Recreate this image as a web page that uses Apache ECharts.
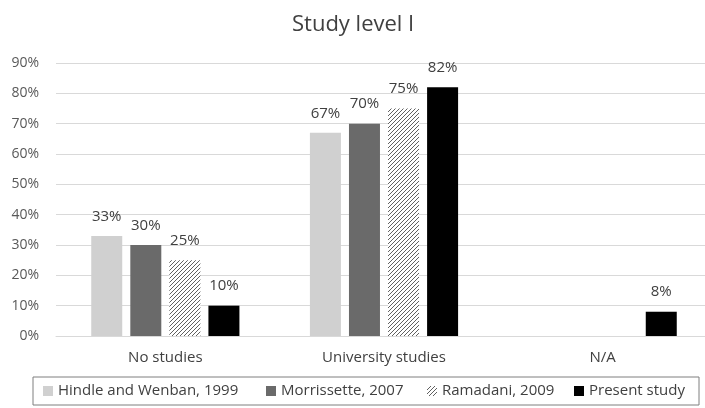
<!DOCTYPE html>
<html>
<head>
<meta charset="utf-8">
<script src="https://cdn.jsdelivr.net/npm/echarts@6/dist/echarts.min.js"></script>
<style>
  html, body { margin: 0; padding: 0; background: #fff; overflow: hidden; }
  /* the plot area runs a few pixels past the right edge of the window */
  #chart { width: 712px; height: 408px; }
</style>
</head>
<body>
<div id="chart"></div>
<script>
const categories = ['No studies', 'University studies', 'N/A'];
const seriesNames = ['Hindle and Wenban, 1999', 'Morrissette, 2007', 'Ramadani, 2009', 'Present study'];
const hindle = [33, 67, null];
const morrissette = [30, 70, null];
const ramadani = [25, 75, null];
const present = [10, 82, 8];
const yTicks = { min: 0, max: 90, interval: 10 };

// Diagonal hatch tile for the Ramadani bars
function hatchTile() {
  const s = 4;
  const c = document.createElement('canvas');
  c.width = s; c.height = s;
  const g = c.getContext('2d');
  g.fillStyle = '#ffffff';
  g.fillRect(0, 0, s, s);
  g.strokeStyle = '#606060';
  g.lineWidth = 1;
  g.beginPath();
  g.moveTo(-1, s + 1); g.lineTo(s + 1, -1);
  g.moveTo(-1, 1); g.lineTo(1, -1);
  g.moveTo(s - 1, s + 1); g.lineTo(s + 1, s - 1);
  g.stroke();
  return c;
}

const FONT = "'Open Sans', 'Noto Sans', sans-serif";
const textColor = '#404040';

function barSeries(name, data, color) {
  return {
    name: name,
    type: 'bar',
    data: data,
    barWidth: 31,
    barGap: '26%',
    itemStyle: { color: color },
    label: {
      show: true,
      position: 'top',
      distance: 12,
      formatter: p => p.value + '%',
      color: textColor,
      fontFamily: FONT,
      fontSize: 15
    }
  };
}

// legend entries with their text box widths
const legendWidths = [198, 136, 122, 100];

const chart = echarts.init(document.getElementById('chart'), null, { renderer: 'canvas' });
chart.setOption({
  animation: false,
  backgroundColor: '#ffffff',
  title: {
    text: 'Study level I',
    left: 287,
    top: 9,
    textStyle: { fontFamily: FONT, fontSize: 22, fontWeight: 'normal', color: textColor }
  },
  grid: { left: 56, right: 0, top: 63, bottom: 72 },
  xAxis: {
    type: 'category',
    data: categories,
    axisTick: { show: false },
    axisLine: { lineStyle: { color: '#d9d9d9', width: 1 } },
    axisLabel: { color: textColor, fontFamily: FONT, fontSize: 15, margin: 14 }
  },
  yAxis: {
    type: 'value',
    min: yTicks.min,
    max: yTicks.max,
    interval: yTicks.interval,
    axisLine: { show: false },
    axisTick: { show: false },
    splitLine: { lineStyle: { color: '#d9d9d9', width: 1 } },
    axisLabel: { formatter: '{value}%', color: '#595959', fontFamily: FONT, fontSize: 14, margin: 17 }
  },
  legend: {
    data: seriesNames.map((n, i) => ({ name: n, textStyle: { width: legendWidths[i] } })),
    left: 33,
    top: 377,
    padding: [5, 10, 5, 10],
    itemWidth: 10,
    itemHeight: 10,
    itemGap: 10,
    borderColor: '#7f7f7f',
    borderWidth: 1,
    icon: 'rect',
    textStyle: { color: textColor, fontFamily: FONT, fontSize: 15, lineHeight: 18 }
  },
  series: [
    barSeries(seriesNames[0], hindle, '#d0d0d0'),
    barSeries(seriesNames[1], morrissette, '#6a6a6a'),
    barSeries(seriesNames[2], ramadani, { image: hatchTile(), repeat: 'repeat' }),
    barSeries(seriesNames[3], present, '#000000')
  ]
});
</script>
</body>
</html>
